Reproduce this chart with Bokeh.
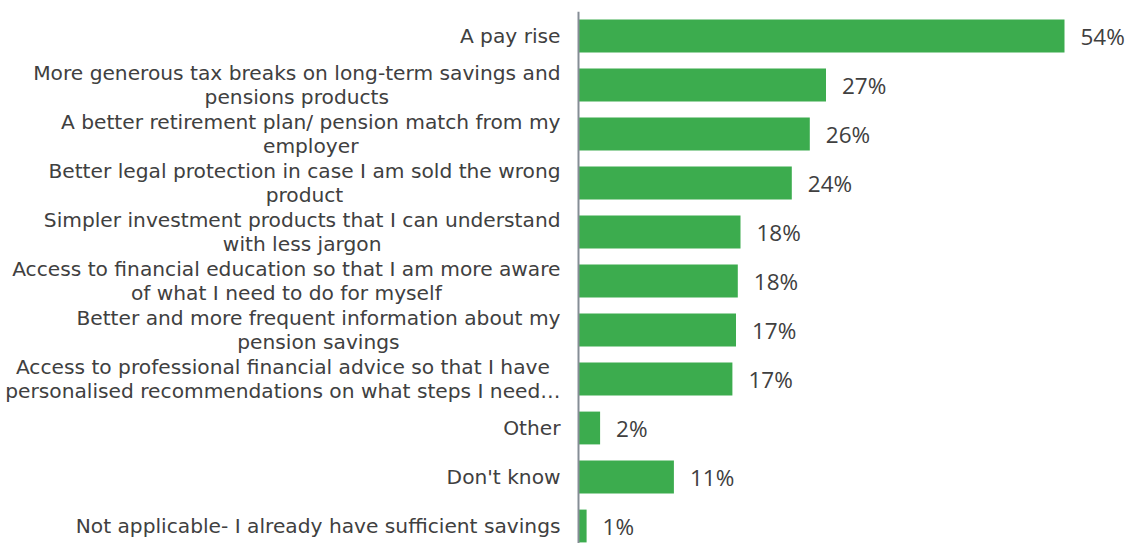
from bokeh.plotting import figure
from bokeh.models import Range1d, ColumnDataSource, Span
from bokeh.core.properties import value
from bokeh.embed import file_html
from bokeh.resources import INLINE

categories = [
    "A pay rise",
    "More generous tax breaks on long-term savings and\npensions products",
    "A better retirement plan/ pension match from my\nemployer",
    "Better legal protection in case I am sold the wrong\nproduct",
    "Simpler investment products that I can understand\nwith less jargon",
    "Access to financial education so that I am more aware\nof what I need to do for myself",
    "Better and more frequent information about my\npension savings",
    "Access to professional financial advice so that I have\npersonalised recommendations on what steps I need\u2026",
    "Other",
    "Don't know",
    "Not applicable- I already have sufficient savings",
]
values = [54, 27.5, 25.7, 23.7, 18.0, 17.7, 17.5, 17.1, 2.4, 10.6, 0.9]
value_labels = ["54%", "27%", "26%", "24%", "18%", "18%", "17%", "17%", "2%", "11%", "1%"]

ypos = list(range(len(categories)))
src = ColumnDataSource(dict(y=ypos, v=values, lab=value_labels, cat=categories,
                            zero=[0] * len(categories)))

W, H = 1131, 543
top = 11
axis_px = 578        # screen x of the value axis
pitch = 49.0         # px per category
px_per_unit = 9.0    # px per percentage point

p = figure(width=W, height=H, output_backend="svg", toolbar_location=None,
           x_range=Range1d(-axis_px / px_per_unit, (W - axis_px) / px_per_unit),
           y_range=Range1d(-0.5 + (H - top) / pitch, -0.5),
           min_border_left=0, min_border_right=0, min_border_top=top, min_border_bottom=0)
p.outline_line_color = None
p.xaxis.visible = False
p.yaxis.visible = False
p.xgrid.visible = False
p.ygrid.visible = False

p.hbar(y="y", right="v", left=0, height=0.67, source=src, fill_color="#3cac4e", line_color=None)
p.add_layout(Span(location=0, dimension="height", line_color="#858d96", line_width=2))

p.text(x="v", y="y", text="lab", source=src, x_offset=16, text_align="left", text_baseline="middle",
       text_font=value("Open Sans"), text_font_size="22.5px", text_color="#404040")

p.text(x="zero", y="y", text="cat", source=src, x_offset=-18, anchor="center_right",
       text_align="center", text_baseline="middle", text_line_height=1.0,
       text_font=value("DejaVu Sans"), text_font_size="20.2px", text_color="#404040")

open("out.html", "w").write(file_html(p, INLINE))
